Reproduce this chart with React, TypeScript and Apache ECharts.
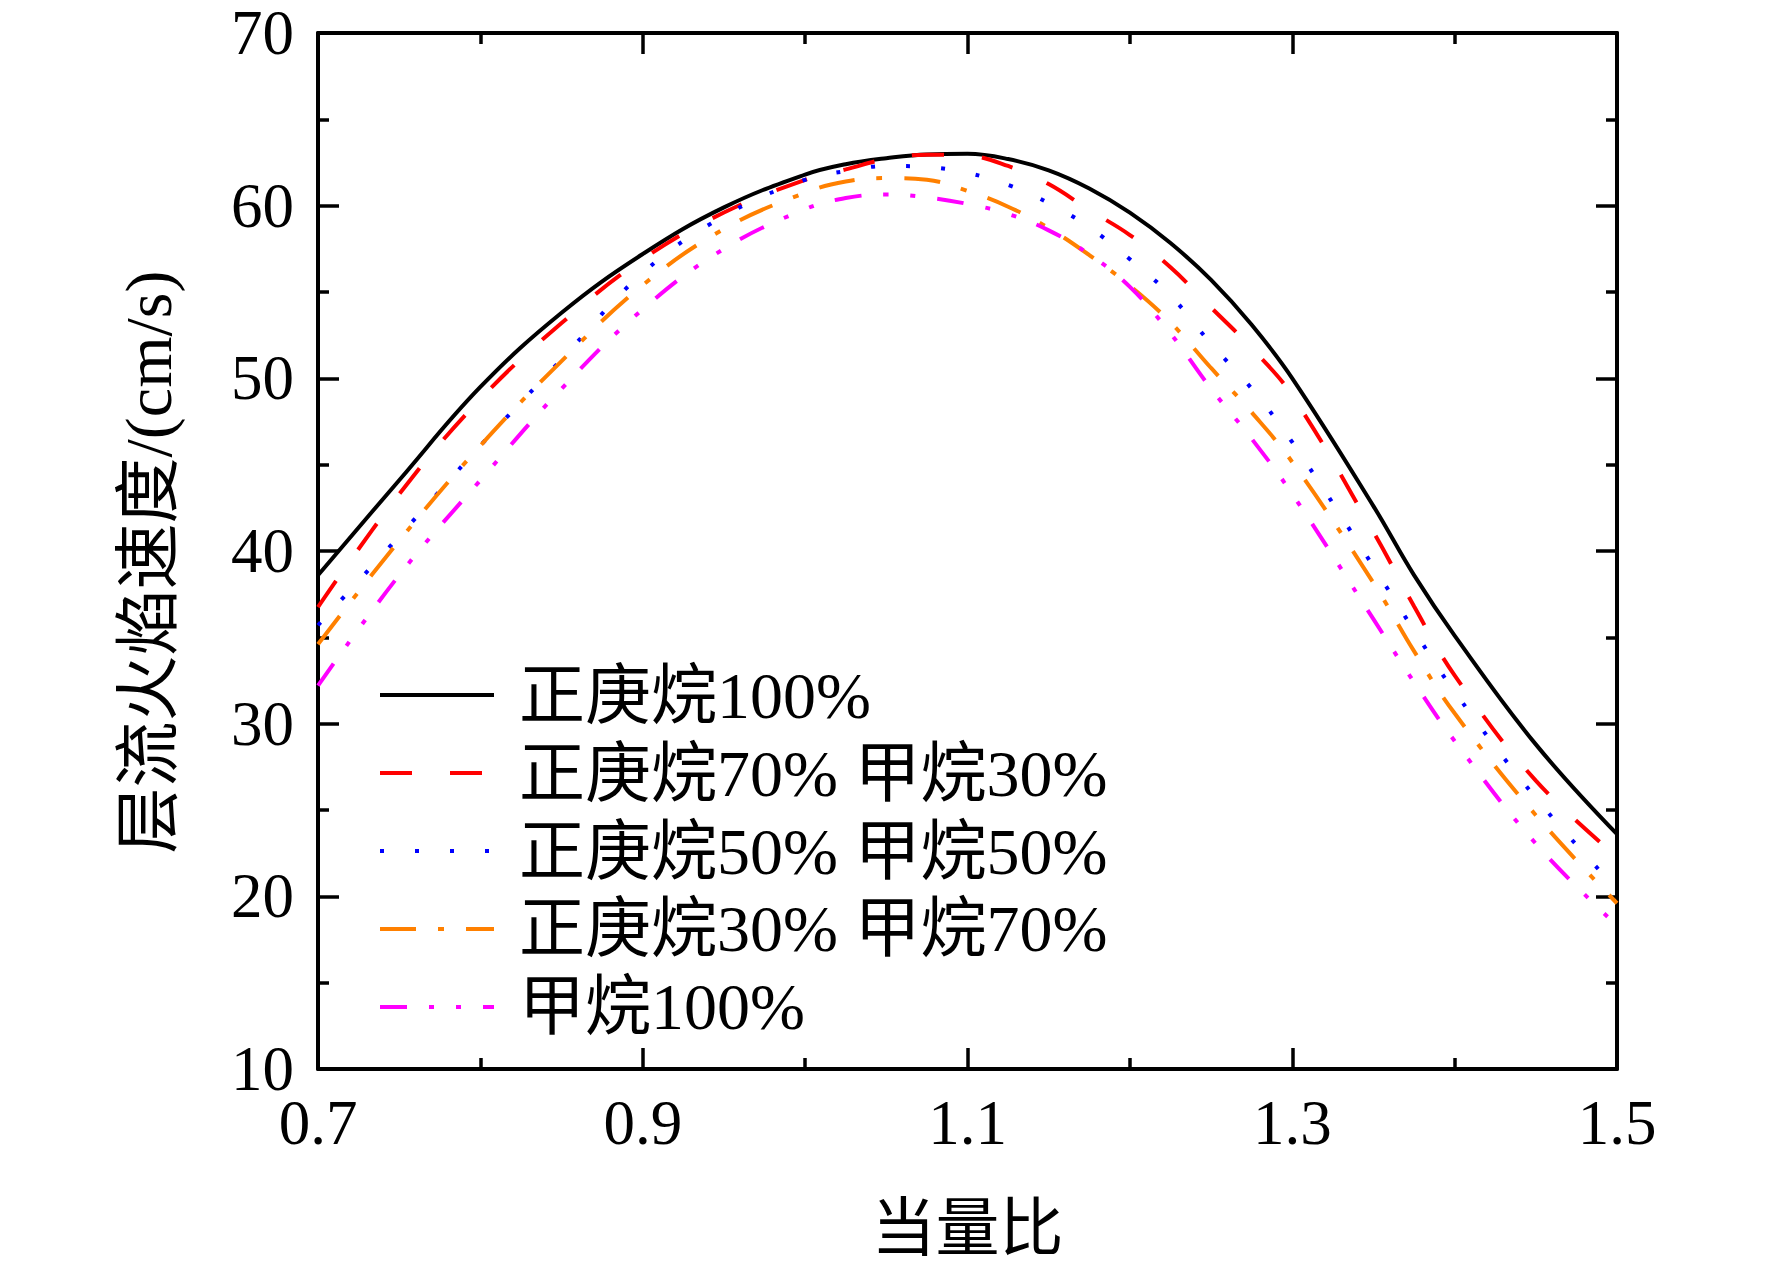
import React, { useEffect, useRef } from "react";
import * as echarts from "echarts";

// axis tick categories (equivalence ratio)
const xTickLabels = ["0.7", "0.8", "0.9", "1.0", "1.1", "1.2", "1.3", "1.4", "1.5"];
// sampled equivalence ratios
const phi = [0.70, 0.75, 0.80, 0.85, 0.90, 0.95, 1.00, 1.025, 1.05, 1.075, 1.10, 1.125, 1.15, 1.175, 1.20, 1.225, 1.25, 1.275, 1.30, 1.35, 1.375, 1.40, 1.45, 1.50];
// laminar flame speed (cm/s)
const heptane100 = [38.6, 44.1, 49.5, 53.8, 57.2, 59.9, 61.8, 62.4, 62.75, 62.97, 63.0, 62.7, 62.05, 61.0, 59.6, 57.84, 55.7, 53.1, 50.0, 42.6, 38.6, 35.1, 28.8, 23.6];
const heptane70 = [36.75, 43.3, 48.8, 53.2, 56.9, 59.6, 61.5, 62.1, 62.7, 62.95, 62.9, 62.3, 61.25, 59.75, 58.3, 56.43, 54.1, 51.75, 49.0, 41.1, 36.8, 32.8, 26.7, 22.3];
const heptane50 = [35.7, 40.85, 46.1, 51.1, 56.1, 59.4, 61.5, 62.0, 62.3, 62.24, 61.9, 61.2, 60.15, 58.75, 56.9, 54.8, 52.0, 49.4, 46.3, 39.1, 35.4, 31.85, 25.7, 20.4];
const heptane30 = [34.6, 40.6, 46.1, 51.0, 55.4, 58.65, 60.75, 61.4, 61.6, 61.5, 60.85, 59.94, 58.7, 57.14, 55.36, 53.24, 50.6, 48.03, 45.15, 38.15, 34.2, 30.6, 24.7, 19.6];
const methane100 = [32.2, 38.6, 44.1, 49.4, 54.0, 57.5, 59.8, 60.44, 60.65, 60.48, 60.1, 59.52, 58.57, 57.18, 55.3, 52.6, 49.4, 46.5, 43.3, 36.05, 32.4, 29.0, 23.05, 18.3];

const seriesNames = ["正庚烷100%", "正庚烷70% 甲烷30%", "正庚烷50% 甲烷50%", "正庚烷30% 甲烷70%", "甲烷100%"];
const xRange = { min: 0.7, max: 1.5 };
const yTicks = { min: 10, max: 70, interval: 10 };
const xTitle = "当量比";
const yTitle = "层流火焰速度/(cm/s)";

const FONT = "'Liberation Serif', 'Noto Sans CJK SC', serif";

export default function App() {
  const ref = useRef<HTMLDivElement>(null);
  useEffect(() => {
    const chart = echarts.init(ref.current!, null, { renderer: "svg" });
    const values = [heptane100, heptane70, heptane50, heptane30, methane100];
    const colors = ["#000000", "#ff0000", "#0000ff", "#ff8000", "#ff00ff"];
    const dashes: any[] = ["solid", [32, 38], [4, 31], [36, 22, 6, 22], [27, 22, 5, 22, 5, 22]];

    const majorIdx = (i: number) => i % 2 === 0;
    const minorIdx = (i: number) => i % 2 === 1;

    const xBase = (position: string, major: boolean, showLine: boolean, showLabel: boolean) => ({
      type: "category",
      data: xTickLabels,
      position,
      boundaryGap: false,
      axisLine: { show: showLine, lineStyle: { color: "#000", width: 4 } },
      axisTick: {
        show: true,
        inside: true,
        length: major ? 21 : 11,
        interval: (i: number) => (major ? majorIdx(i) : minorIdx(i)),
        lineStyle: { color: "#000", width: 3.5 },
      },
      axisLabel: {
        show: showLabel,
        interval: (i: number) => majorIdx(i),
        fontFamily: FONT,
        fontSize: 63,
        color: "#000",
        margin: 22,
      },
      splitLine: { show: false },
    });

    const xAxes: any[] = [
      { ...xBase("bottom", true, true, true), name: xTitle, nameLocation: "middle", nameGap: 127,
        nameTextStyle: { fontFamily: FONT, fontSize: 64, color: "#000" } },
      xBase("bottom", false, false, false),
      xBase("top", true, true, false),
      xBase("top", false, false, false),
      { type: "value", min: xRange.min, max: xRange.max, show: false },
    ];

    const yBase = (position: string, showLabel: boolean) => ({
      type: "value",
      position,
      min: yTicks.min,
      max: yTicks.max,
      interval: yTicks.interval,
      axisLine: { show: true, lineStyle: { color: "#000", width: 4 } },
      axisTick: { show: true, inside: true, length: 21, lineStyle: { color: "#000", width: 3.5 } },
      minorTick: { show: true, splitNumber: 2, length: 11, lineStyle: { color: "#000", width: 3.5 } },
      axisLabel: { show: showLabel, fontFamily: FONT, fontSize: 63, lineHeight: 56, padding: [8, 0, 0, 0],
        color: "#000", margin: 24 },
      splitLine: { show: false },
      minorSplitLine: { show: false },
    });

    const yAxes: any[] = [
      { ...yBase("left", true), name: yTitle, nameLocation: "middle", nameGap: 137, nameRotate: 90,
        nameTextStyle: { fontFamily: FONT, fontSize: 66, color: "#000", padding: [0, 22, 0, 0] } },
      yBase("right", false),
    ];

    chart.setOption({
      animation: false,
      backgroundColor: "#fff",
      grid: { left: 318, top: 33, width: 1299, height: 1036, containLabel: false },
      xAxis: xAxes,
      yAxis: yAxes,
      legend: {
        orient: "vertical",
        left: 378,
        top: 662,
        padding: 0,
        itemWidth: 114,
        itemHeight: 20,
        itemGap: 12,
        data: seriesNames,
        itemStyle: { opacity: 0 },
        lineStyle: { width: 4 },
        textStyle: { fontFamily: FONT, fontSize: 66, lineHeight: 64, color: "#000", padding: [0, 0, 0, 20] },
      },
      series: seriesNames.map((name, k) => ({
        name,
        type: "line",
        xAxisIndex: 4,
        yAxisIndex: 0,
        data: phi.map((p, i) => [p, values[k][i]]),
        smooth: 0.4,
        symbol: "none",
        lineStyle: { color: colors[k], width: 4, type: dashes[k] },
        itemStyle: { color: colors[k] },
      })),
    });
    return () => chart.dispose();
  }, []);
  return <div ref={ref} style={{ position: "absolute", left: 0, top: 0, width: 1772, height: 1266 }} />;
}
